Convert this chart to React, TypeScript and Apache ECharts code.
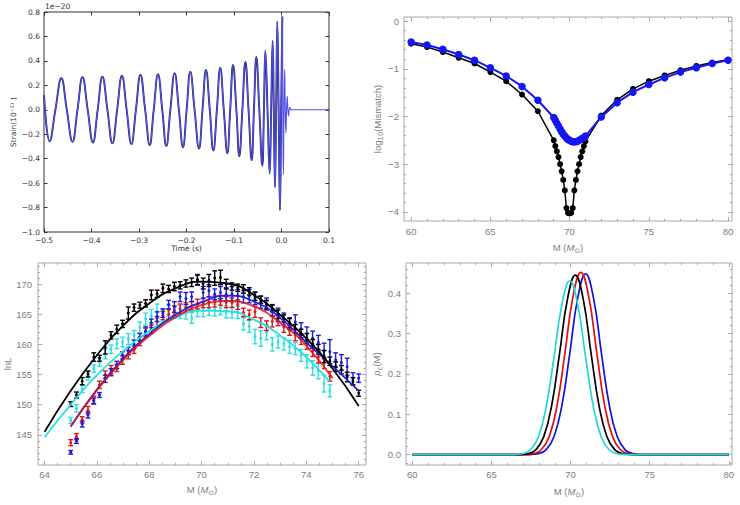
import React, { useEffect, useRef } from "react";
import * as echarts from "echarts";

// ---------- Panel A: strain waveform, time [s] vs strain [x1e-20] ----------
const strainPoints: [number, number][] = [
  [-0.5, 0.12], [-0.488, -0.258], [-0.476, 0], [-0.4635, 0.258], [-0.452, 0],
  [-0.44, -0.262], [-0.4295, 0], [-0.419, 0.266], [-0.408, 0], [-0.397, -0.268],
  [-0.387, 0], [-0.377, 0.27], [-0.3665, 0], [-0.356, -0.274], [-0.346, 0],
  [-0.336, 0.278], [-0.326, 0], [-0.316, -0.28], [-0.3065, 0], [-0.297, 0.284],
  [-0.287, 0], [-0.2775, -0.288], [-0.269, 0], [-0.26, 0.292], [-0.251, 0],
  [-0.2425, -0.296], [-0.234, 0], [-0.225, 0.3], [-0.216, 0], [-0.2074, -0.306],
  [-0.1997, 0], [-0.192, 0.312], [-0.183, 0], [-0.1737, -0.318], [-0.1663, 0],
  [-0.159, 0.325], [-0.151, 0], [-0.1435, -0.334], [-0.136, 0], [-0.129, 0.345],
  [-0.1215, 0], [-0.114, -0.356], [-0.108, 0], [-0.102, 0.366], [-0.095, 0],
  [-0.0888, -0.38], [-0.0824, 0], [-0.076, 0.392], [-0.0694, 0], [-0.0628, -0.412],
  [-0.058, 0], [-0.053, 0.432], [-0.0467, 0], [-0.0404, -0.458], [-0.037, 0],
  [-0.034, 0.484], [-0.0295, 0], [-0.0249, -0.522], [-0.0218, 0], [-0.0186, 0.565],
  [-0.0162, 0], [-0.0137, -0.635], [-0.0113, 0], [-0.0088, 0.722], [-0.006, 0],
  [-0.0032, -0.822], [-0.0007, 0], [0.0018, 0.764], [0.0028, 0], [0.004, -0.53],
  [0.0052, 0], [0.0066, 0.33], [0.0079, 0], [0.0093, -0.19], [0.0106, 0],
  [0.012, 0.11], [0.0134, 0], [0.0148, -0.05], [0.0162, 0], [0.0178, 0.02],
  [0.02, 0], [0.1, 0],
];
const templateEndTime = 0.0018;

// ---------- Panel B: log10(mismatch) vs total mass ----------
const mismatchMass = [
  60, 61, 62, 63, 64, 65, 66, 67, 68,
  69, 69.1, 69.2, 69.3, 69.4, 69.5, 69.6, 69.7, 69.8, 69.9, 70,
  70.1, 70.2, 70.3, 70.4, 70.5, 70.6, 70.7, 70.8, 70.9, 71,
  72, 73, 74, 75, 76, 77, 78, 79, 80,
];
const mismatchBlack = [
  -0.475, -0.545, -0.65, -0.77, -0.89, -1.07, -1.26, -1.54, -1.89,
  -2.5, -2.62, -2.73, -2.85, -3.0, -3.15, -3.33, -3.55, -3.92, -4.02, -4.03,
  -4.02, -3.92, -3.55, -3.33, -3.15, -3.0, -2.85, -2.73, -2.62, -2.52,
  -1.98, -1.65, -1.42, -1.26, -1.14, -1.03, -0.94, -0.87, -0.81,
];
const mismatchBlue = [
  -0.44, -0.5, -0.59, -0.7, -0.82, -0.98, -1.15, -1.37, -1.66,
  -2.02, -2.08, -2.14, -2.2, -2.26, -2.32, -2.37, -2.41, -2.45, -2.48, -2.5,
  -2.52, -2.53, -2.53, -2.53, -2.52, -2.5, -2.48, -2.46, -2.44, -2.41,
  -2.01, -1.71, -1.49, -1.33, -1.19, -1.07, -0.98, -0.89, -0.82,
];

// ---------- Panel C: lnL samples with error bars, plus fitted curves ----------
const lnLMass = [
  65.0, 65.22, 65.44, 65.66, 65.88, 66.1, 66.32, 66.54, 66.76, 66.98,
  67.2, 67.42, 67.64, 67.86, 68.08, 68.3, 68.52, 68.74, 68.96, 69.18,
  69.4, 69.62, 69.84, 70.06, 70.28, 70.5, 70.72, 70.94, 71.16, 71.38,
  71.6, 71.82, 72.04, 72.26, 72.48, 72.7, 72.92, 73.14, 73.36, 73.58,
  73.8, 74.02, 74.24, 74.46, 74.68, 74.9, 75.12, 75.34, 75.56, 75.78, 76.0,
];
const lnLBlack = [
  150.1, 151.6, 153.9, 155.1, 157.9, 157.7, 159.5, 161.5, 162.5, 163.4,
  165.2, 166.1, 166.5, 166.8, 168.2, 168.4, 169.3, 169.2, 169.6, 169.8,
  170.1, 170.3, 170.7, 170.1, 170.6, 171.0, 171.1, 170.0, 169.6, 169.4,
  169.2, 168.8, 168.0, 167.4, 166.6, 166.0, 165.0, 164.3, 163.6, 162.6,
  161.8, 161.0, 160.1, 159.2, 158.0, 157.2, 156.3, 155.8, 154.6, 153.9, 151.9,
];
const lnLBlackErr = [
  0.4, 0.5, 0.6, 0.5, 0.7, 0.5, 1.1, 0.6, 0.7, 0.6,
  1.0, 0.6, 0.5, 0.6, 0.8, 0.6, 0.7, 0.6, 0.7, 0.6,
  0.6, 0.7, 0.8, 0.9, 1.0, 1.2, 1.2, 0.8, 0.6, 0.6,
  0.7, 0.6, 0.7, 0.6, 0.7, 0.6, 0.7, 0.6, 0.8, 0.7,
  0.7, 0.8, 0.7, 0.8, 1.0, 0.7, 0.8, 0.7, 0.8, 0.6, 0.5,
];
const lnLBlue = [
  142.1, 144.0, 146.8, 148.3, 150.6, 151.6, 154.3, 155.4, 156.6, 158.2,
  158.9, 160.0, 161.2, 162.2, 163.5, 164.6, 165.2, 166.6, 166.2, 167.9,
  167.6, 167.9, 170.7, 168.6, 168.9, 168.3, 168.6, 168.3, 168.4, 168.1,
  167.9, 168.0, 167.6, 167.0, 166.7, 165.6, 164.9, 164.2, 163.4, 163.7,
  162.6, 161.8, 161.0, 160.3, 158.9, 158.8, 157.4, 157.0, 156.3, 154.3, 154.4,
];
const lnLBlueErr = [
  0.3, 0.4, 0.5, 0.5, 0.5, 0.4, 0.6, 0.6, 0.6, 0.6,
  0.6, 0.7, 0.6, 0.7, 0.7, 0.8, 0.7, 0.7, 0.9, 0.8,
  1.0, 0.8, 0.9, 1.0, 1.0, 0.9, 1.0, 1.1, 1.2, 1.0,
  1.0, 1.1, 1.0, 1.0, 1.0, 0.9, 1.1, 1.0, 0.9, 1.2,
  1.0, 1.1, 1.2, 1.2, 1.3, 2.0, 1.2, 1.3, 1.4, 1.0, 0.7,
];
const lnLRed = [
  143.7, 144.7, 147.5, 149.1, 150.8, 153.3, 155.0, 155.8, 156.1, 157.4,
  158.3, 159.1, 160.5, 162.0, 162.5, 163.8, 164.8, 165.0, 165.6, 165.9,
  166.1, 166.4, 166.7, 166.9, 167.0, 167.1, 167.3, 167.0, 166.9, 166.6,
  165.3, 164.9, 165.4, 163.6, 163.1, 163.8, 163.9, 162.9, 162.3, 161.5,
  160.9, 160.0, 158.9, 157.9, 156.9, 154.7,
];
const lnLRedErr = [
  0.5, 0.5, 0.5, 0.6, 0.6, 0.6, 0.6, 0.7, 0.6, 0.7,
  0.7, 0.6, 0.7, 0.7, 0.7, 0.8, 0.7, 0.8, 0.8, 0.8,
  0.8, 0.7, 0.8, 0.8, 0.9, 0.9, 0.8, 0.9, 0.8, 0.8,
  0.7, 0.8, 0.9, 0.8, 0.8, 0.9, 0.8, 0.9, 0.8, 0.9,
  0.9, 0.8, 0.9, 1.0, 0.9, 0.8,
];
const lnLCyan = [
  147.4, 149.4, 152.6, 154.8, 156.0, 157.1, 158.4, 159.2, 160.1, 160.4,
  160.9, 161.5, 162.8, 164.2, 164.7, 165.5, 164.8, 165.6, 165.3, 165.4,
  165.2, 164.4, 165.6, 165.6, 165.9, 165.7, 166.1, 165.4, 165.3, 165.3,
  163.4, 163.0, 161.3, 161.0, 162.0, 160.0, 160.4, 160.1, 159.6, 159.3,
  158.2, 157.2, 156.1, 155.6, 153.5, 152.3,
];
const lnLCyanErr = [
  0.5, 0.6, 0.6, 0.7, 0.6, 0.7, 0.8, 0.7, 0.8, 0.8,
  0.9, 0.8, 0.9, 1.0, 1.1, 1.2, 1.0, 0.9, 1.0, 1.1,
  1.0, 0.9, 1.0, 1.0, 1.1, 1.0, 1.2, 1.0, 0.9, 1.0,
  1.0, 1.0, 1.2, 1.3, 1.2, 1.1, 1.0, 1.0, 1.1, 1.0,
  1.0, 1.1, 1.2, 1.3, 1.4, 1.0,
];

const fitMassBlack = [64, 65, 66, 67, 68, 69, 70, 71, 72, 73, 74, 75, 76];
const fitBlack = [145.5, 152.3, 158.2, 163.1, 166.8, 169.3, 170.4, 170.1, 168.2, 164.9, 161.0, 156.0, 149.8];
const fitMassCyan = [64, 65, 66, 67, 68, 69, 70, 71, 72, 73, 74, 74.9];
const fitCyan = [144.6, 150.0, 154.9, 158.9, 162.2, 164.5, 165.6, 165.5, 164.1, 161.5, 157.9, 153.8];
const fitMassRed = [65, 66, 67, 68, 69, 70, 71, 72, 73, 74, 75];
const fitRed = [146.4, 152.4, 157.4, 161.4, 164.5, 166.5, 167.2, 166.3, 163.6, 159.8, 154.4];
const fitMassBlue = [65, 66, 67, 68, 69, 70, 71, 72, 73, 74, 75, 76];
const fitBlue = [146.4, 152.5, 157.6, 161.7, 164.9, 167.0, 168.1, 167.1, 164.4, 160.3, 156.4, 152.3];

// ---------- Panel D: posterior p_c(M) ----------
const pcCyan: [number, number][] = [
  [60, 0], [65.95, 0], [66.45, 0.0004], [66.95, 0.0024], [67.45, 0.0116], [67.95, 0.0426],
  [68.45, 0.117], [68.95, 0.241], [69.45, 0.372], [69.95, 0.431], [70.45, 0.372],
  [70.95, 0.241], [71.45, 0.117], [71.95, 0.0426], [72.45, 0.0116], [72.95, 0.0024],
  [73.45, 0.0004], [73.95, 0], [80, 0],
];
const pcBlack: [number, number][] = [
  [60, 0], [66.3, 0], [66.8, 0.0004], [67.3, 0.0024], [67.8, 0.012], [68.3, 0.0441],
  [68.8, 0.121], [69.3, 0.25], [69.8, 0.385], [70.3, 0.445], [70.8, 0.385],
  [71.3, 0.25], [71.8, 0.121], [72.3, 0.0441], [72.8, 0.012], [73.3, 0.0024],
  [73.8, 0.0004], [74.3, 0], [80, 0],
];
const pcRed: [number, number][] = [
  [60, 0], [66.65, 0], [67.15, 0.0004], [67.65, 0.0025], [68.15, 0.0122], [68.65, 0.0448],
  [69.15, 0.123], [69.65, 0.254], [70.15, 0.391], [70.65, 0.452], [71.15, 0.391],
  [71.65, 0.254], [72.15, 0.123], [72.65, 0.0448], [73.15, 0.0122], [73.65, 0.0025],
  [74.15, 0.0004], [74.65, 0], [80, 0],
];
const pcBlue: [number, number][] = [
  [60, 0], [66.95, 0], [67.45, 0.0004], [67.95, 0.0025], [68.45, 0.0121], [68.95, 0.0444],
  [69.45, 0.122], [69.95, 0.251], [70.45, 0.388], [70.95, 0.448], [71.45, 0.388],
  [71.95, 0.251], [72.45, 0.122], [72.95, 0.0444], [73.45, 0.0121], [73.95, 0.0025],
  [74.45, 0.0004], [74.95, 0], [80, 0],
];

// ---------- styling helpers ----------
const MPL_FONT = "DejaVu Sans";
const MPL_INK = "#333333";
const MMA_FONT = "Liberation Sans, Arial, sans-serif";
const MMA_TEXT = "#7c7c7c";
const MMA_FRAME = "#a8a8a8";

function steps(from: number, to: number, step: number, skip: number[]): number[] {
  const out: number[] = [];
  const n = Math.round((to - from) / step);
  for (let i = 0; i <= n; i++) {
    const v = Math.round((from + i * step) * 1000) / 1000;
    if (!skip.some((s) => Math.abs(s - v) < 1e-6)) out.push(v);
  }
  return out;
}

const minusFmt = (digits: number) => (v: number) => {
  if (Math.abs(v) < 1e-9) return (0).toFixed(digits);
  const s = Math.abs(v).toFixed(digits);
  return v < 0 ? "\u2212" + s : s;
};

type AxisSpec = {
  grid: number;
  min: number;
  max: number;
  major: number[];
  minor: number[];
  fmt: (v: number) => string;
  color: string;
  tickColor: string;
  font: string;
  size: number;
  majorLen: number;
  minorLen: number;
  margin: number;
  name?: string;
  nameGap?: number;
  nameStyle?: any;
};

// Four stacked axes per side: labelled major ticks, minor ticks, and mirrored
// ticks on the opposite frame edge.
function frameAxes(dim: "x" | "y", s: AxisSpec) {
  const near = dim === "x" ? "bottom" : "left";
  const far = dim === "x" ? "top" : "right";
  const base = {
    type: "value",
    gridIndex: s.grid,
    min: s.min,
    max: s.max,
    splitLine: { show: false },
    axisLine: { show: false, onZero: false },
    silent: true,
  };
  const tick = (vals: number[], len: number) => ({
    show: vals.length > 0,
    inside: true,
    length: len,
    customValues: vals,
    lineStyle: { color: s.tickColor, width: 1 },
  });
  const hidden = { show: false };
  return [
    {
      ...base,
      position: near,
      name: s.name,
      nameLocation: "middle",
      nameGap: s.nameGap,
      nameTextStyle: s.nameStyle,
      axisTick: tick(s.major, s.majorLen),
      axisLabel: {
        show: true,
        customValues: s.major,
        formatter: s.fmt,
        color: s.color,
        fontFamily: s.font,
        fontSize: s.size,
        margin: s.margin,
        hideOverlap: false,
      },
    },
    { ...base, position: near, axisTick: tick(s.minor, s.minorLen), axisLabel: hidden },
    { ...base, position: far, axisTick: tick(s.major, s.majorLen), axisLabel: hidden },
    { ...base, position: far, axisTick: tick(s.minor, s.minorLen), axisLabel: hidden },
  ];
}

const mmaName = (size: number) => ({
  fontFamily: MMA_FONT,
  fontSize: size,
  color: MMA_TEXT,
  rich: {
    n: { fontFamily: MMA_FONT, fontSize: size, color: MMA_TEXT, lineHeight: 14 },
    i: { fontFamily: MMA_FONT, fontSize: size, color: MMA_TEXT, fontStyle: "italic", lineHeight: 14 },
    sub: { fontFamily: "DejaVu Sans", fontSize: size * 0.72, color: MMA_TEXT, lineHeight: 7, verticalAlign: "bottom" },
  },
});
const massName = "{n|M (}{i|M}{sub|\u2299}{n|)}";

function errorBarSeries(ys: number[], errs: number[], color: string, axis: number) {
  const data = ys.map((y, i) => [lnLMass[i], y, errs[i]]);
  return {
    type: "custom",
    xAxisIndex: axis,
    yAxisIndex: axis,
    silent: true,
    data,
    encode: { x: 0, y: 1 },
    renderItem: (_params: any, api: any) => {
      const x = api.value(0);
      const y = api.value(1);
      const e = api.value(2);
      const hi = api.coord([x, y + e]);
      const lo = api.coord([x, y - e]);
      const c = api.coord([x, y]);
      const w = 2.4;
      const st = { stroke: color, lineWidth: 1.4 };
      return {
        type: "group",
        children: [
          { type: "line", shape: { x1: hi[0], y1: hi[1], x2: lo[0], y2: lo[1] }, style: st },
          { type: "line", shape: { x1: hi[0] - w, y1: hi[1], x2: hi[0] + w, y2: hi[1] }, style: st },
          { type: "line", shape: { x1: lo[0] - w, y1: lo[1], x2: lo[0] + w, y2: lo[1] }, style: st },
          { type: "circle", shape: { cx: c[0], cy: c[1], r: 1.5 }, style: { fill: color } },
        ],
      };
    },
  };
}

function curve(xs: number[], ys: number[], color: string, axis: number, width = 1.6, opacity = 1) {
  return {
    type: "line",
    xAxisIndex: axis,
    yAxisIndex: axis,
    silent: true,
    showSymbol: false,
    smooth: 0.5,
    data: xs.map((x, i) => [x, ys[i]]),
    lineStyle: { color, width, opacity },
  };
}

function pcCurve(pts: [number, number][], color: string) {
  return {
    type: "line",
    xAxisIndex: 12,
    yAxisIndex: 12,
    silent: true,
    showSymbol: false,
    smooth: 0.45,
    data: pts,
    lineStyle: { color, width: 1.7 },
  };
}

function buildOption() {
  const xAxes: any[] = [];
  const yAxes: any[] = [];

  // Panel A (matplotlib look)
  xAxes.push(
    ...frameAxes("x", {
      grid: 0, min: -0.5, max: 0.1,
      major: [-0.5, -0.4, -0.3, -0.2, -0.1, 0, 0.1], minor: [],
      fmt: minusFmt(1), color: MPL_INK, tickColor: MPL_INK, font: MPL_FONT, size: 7.5,
      majorLen: 3.5, minorLen: 2, margin: 4,
      name: "Time (s)", nameGap: 12,
      nameStyle: { fontFamily: MPL_FONT, fontSize: 7.5, color: MPL_INK },
    })
  );
  yAxes.push(
    ...frameAxes("y", {
      grid: 0, min: -1.0, max: 0.8,
      major: [-1.0, -0.8, -0.6, -0.4, -0.2, 0, 0.2, 0.4, 0.6, 0.8], minor: [],
      fmt: minusFmt(1), color: MPL_INK, tickColor: MPL_INK, font: MPL_FONT, size: 7.5,
      majorLen: 3.5, minorLen: 2, margin: 4,
      name: "Strain(10\u207B\u00B2\u00B9 )", nameGap: 24,
      nameStyle: { fontFamily: MPL_FONT, fontSize: 7.5, color: MPL_INK },
    })
  );

  // Panel B
  xAxes.push(
    ...frameAxes("x", {
      grid: 1, min: 59.55, max: 80.25,
      major: [60, 65, 70, 75, 80], minor: steps(60, 80, 1, [60, 65, 70, 75, 80]),
      fmt: (v) => String(v), color: MMA_TEXT, tickColor: MMA_FRAME, font: MMA_FONT, size: 9.5,
      majorLen: 4, minorLen: 2.2, margin: 5,
      name: massName, nameGap: 19, nameStyle: mmaName(9.5),
    })
  );
  yAxes.push(
    ...frameAxes("y", {
      grid: 1, min: -4.19, max: 0.085,
      major: [-4, -3, -2, -1, 0], minor: steps(-4, 0, 0.2, [-4, -3, -2, -1, 0]),
      fmt: minusFmt(0), color: MMA_TEXT, tickColor: MMA_FRAME, font: MMA_FONT, size: 9.5,
      majorLen: 4, minorLen: 2.2, margin: 5,
      name: "{n|log}{sub|10}{n|(Mismatch)}", nameGap: 18, nameStyle: mmaName(9.5),
    })
  );

  // Panel C
  xAxes.push(
    ...frameAxes("x", {
      grid: 2, min: 63.75, max: 76.28,
      major: [64, 66, 68, 70, 72, 74, 76], minor: steps(64, 76, 0.5, [64, 66, 68, 70, 72, 74, 76]),
      fmt: (v) => String(v), color: MMA_TEXT, tickColor: MMA_FRAME, font: MMA_FONT, size: 9.5,
      majorLen: 4, minorLen: 2.2, margin: 4,
      name: massName, nameGap: 17, nameStyle: mmaName(9.5),
    })
  );
  yAxes.push(
    ...frameAxes("y", {
      grid: 2, min: 140.0, max: 173.5,
      major: [145, 150, 155, 160, 165, 170], minor: steps(141, 173, 1, [145, 150, 155, 160, 165, 170]),
      fmt: (v) => String(v), color: MMA_TEXT, tickColor: MMA_FRAME, font: MMA_FONT, size: 9.5,
      majorLen: 4, minorLen: 2.2, margin: 6,
      name: "lnL", nameGap: 26, nameStyle: { fontFamily: MMA_FONT, fontSize: 9.5, color: MMA_TEXT },
    })
  );

  // Panel D
  xAxes.push(
    ...frameAxes("x", {
      grid: 3, min: 59.6, max: 80.2,
      major: [60, 65, 70, 75, 80], minor: steps(60, 80, 1, [60, 65, 70, 75, 80]),
      fmt: (v) => String(v), color: MMA_TEXT, tickColor: MMA_FRAME, font: MMA_FONT, size: 9.5,
      majorLen: 4, minorLen: 2.2, margin: 4,
      name: massName, nameGap: 19, nameStyle: mmaName(9.5),
    })
  );
  yAxes.push(
    ...frameAxes("y", {
      grid: 3, min: -0.0255, max: 0.475,
      major: [0, 0.1, 0.2, 0.3, 0.4], minor: steps(-0.02, 0.46, 0.02, [0, 0.1, 0.2, 0.3, 0.4]),
      fmt: minusFmt(1), color: MMA_TEXT, tickColor: MMA_FRAME, font: MMA_FONT, size: 9.5,
      majorLen: 4, minorLen: 2.2, margin: 5,
      name: "{i|p}{sub|c}{n|(M)}", nameGap: 20, nameStyle: mmaName(9.5),
    })
  );

  const series: any[] = [
    // Panel A: template trace under the data trace
    {
      type: "line", xAxisIndex: 0, yAxisIndex: 0, silent: true, showSymbol: false, smooth: 0.45,
      data: strainPoints.filter((p) => p[0] <= templateEndTime),
      lineStyle: { color: "#2a2a68", width: 1.9 },
    },
    {
      type: "line", xAxisIndex: 0, yAxisIndex: 0, silent: true, showSymbol: false, smooth: 0.45,
      data: strainPoints,
      lineStyle: { color: "#5050f0", width: 1.1 },
    },
    // Panel B
    {
      type: "line", xAxisIndex: 4, yAxisIndex: 4, silent: true,
      data: mismatchMass.map((m, i) => [m, mismatchBlack[i]]),
      symbol: "circle", symbolSize: 6, itemStyle: { color: "#000" },
      lineStyle: { color: "#000", width: 1.5 },
    },
    {
      type: "line", xAxisIndex: 4, yAxisIndex: 4, silent: true,
      data: mismatchMass.map((m, i) => [m, mismatchBlue[i]]),
      symbol: "circle", symbolSize: 7.5, itemStyle: { color: "#1616f2" },
      lineStyle: { color: "#1616f2", width: 2 },
    },
    // Panel C: samples
    errorBarSeries(lnLCyan, lnLCyanErr, "#2ee0e0", 8),
    errorBarSeries(lnLRed, lnLRedErr, "#e41414", 8),
    errorBarSeries(lnLBlue, lnLBlueErr, "#1a1ad8", 8),
    errorBarSeries(lnLBlack, lnLBlackErr, "#000000", 8),
    // Panel C: fits
    curve(fitMassCyan, fitCyan, "#22e2e2", 8, 1.8),
    curve(fitMassBlue, fitBlue, "#2222d8", 8, 1.8),
    curve(fitMassRed, fitRed, "#e81010", 8, 1.8, 0.85),
    curve(fitMassBlack, fitBlack, "#000000", 8, 1.8),
    // Panel D
    pcCurve(pcBlue, "#1212d6"),
    pcCurve(pcRed, "#e40f0f"),
    pcCurve(pcBlack, "#000000"),
    pcCurve(pcCyan, "#22d6d6"),
  ];

  const mplGrid = { show: true, borderColor: MPL_INK, borderWidth: 1, backgroundColor: "transparent" };
  const mmaGrid = { show: true, borderColor: MMA_FRAME, borderWidth: 1, backgroundColor: "transparent" };

  return {
    animation: false,
    backgroundColor: "#ffffff",
    grid: [
      { ...mplGrid, left: 44, top: 12, width: 285, height: 220 },
      { ...mmaGrid, left: 404, top: 17, width: 328, height: 204 },
      { ...mmaGrid, left: 38, top: 263, width: 328, height: 202 },
      { ...mmaGrid, left: 406, top: 263, width: 326, height: 202 },
    ],
    xAxis: xAxes,
    yAxis: yAxes,
    series,
    graphic: [
      {
        type: "text",
        left: 45,
        top: 2,
        style: { text: "1e\u221220", fontFamily: MPL_FONT, fontSize: 7.5, fill: MPL_INK },
      },
    ],
  };
}

export default function App() {
  const ref = useRef<HTMLDivElement>(null);
  useEffect(() => {
    if (!ref.current) return;
    const chart = echarts.init(ref.current, undefined, { renderer: "svg" });
    chart.setOption(buildOption() as any);
    return () => chart.dispose();
  }, []);
  return (
    <div
      ref={ref}
      style={{ position: "fixed", left: 0, top: 0, width: 740, height: 505, background: "#fff" }}
    />
  );
}
